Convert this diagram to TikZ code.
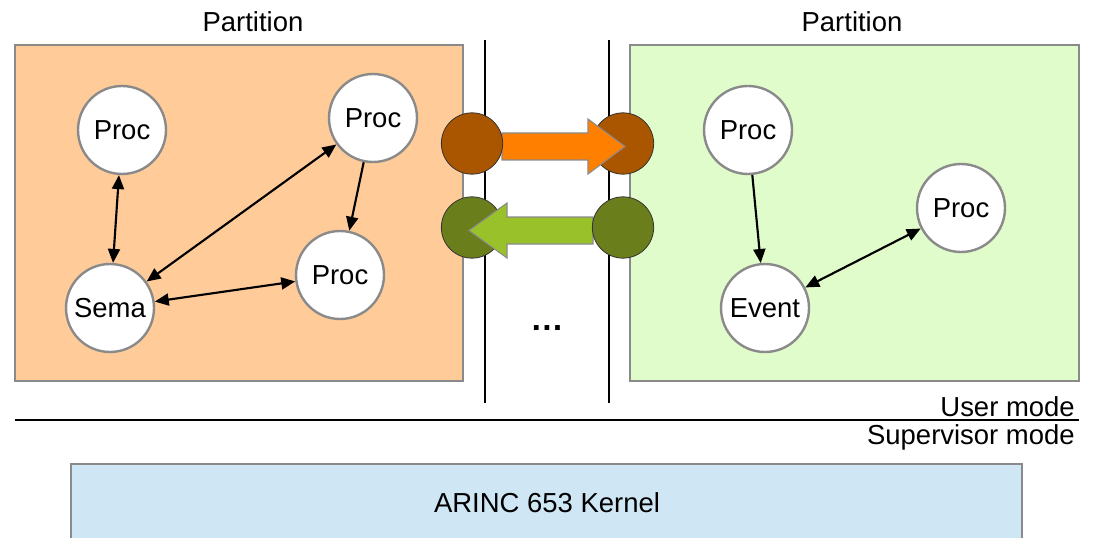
\documentclass[tikz,border=0pt]{standalone}
\usepackage{fontspec}
\setmainfont{Liberation Sans}
\usetikzlibrary{arrows.meta}
\definecolor{peach}{HTML}{FFCC99}
\definecolor{mint}{HTML}{E1FCCB}
\definecolor{kernelblue}{HTML}{CFE6F4}
\definecolor{framegray}{HTML}{8A8A8A}
\definecolor{portbrown}{HTML}{AA5500}
\definecolor{portolive}{HTML}{6A7E1C}
\definecolor{floworange}{HTML}{FF8000}
\definecolor{flowgreen}{HTML}{99C12A}
\tikzset{
  lbl/.style={font=\fontsize{20.6}{24}\selectfont, inner sep=0pt},
  task/.style={circle, draw=framegray, line width=1.8pt, fill=white,
    minimum size=66pt, inner sep=0pt, font=\fontsize{20.6}{24}\selectfont},
  port/.style={circle, draw=black!80, line width=0.6pt, minimum size=46pt, inner sep=0pt},
  partbox/.style={draw=framegray, line width=1.6pt},
  link/.style={line width=1.6pt, {Triangle[length=10.5pt,width=9pt]}-{Triangle[length=10.5pt,width=9pt]}},
  flow/.style={line width=1.6pt, -{Triangle[length=10.5pt,width=9pt]}},
  bigarrow/.style={draw=framegray, line width=0.8pt},
  sep/.style={line width=1.8pt}
}
\begin{document}
\begin{tikzpicture}[x=0.75pt, y=-0.75pt]
  \useasboundingbox (0,0) rectangle (1094,538);
  \clip (0,0) rectangle (1094,538);

  % partition boundaries
  \draw[sep] (485,40) -- (485,403);
  \draw[sep] (609,40) -- (609,403);
  \draw[sep] (15,420) -- (1079,420);

  % partitions
  \draw[partbox, fill=peach] (15,45) rectangle (463,381);
  \draw[partbox, fill=mint] (630,45) rectangle (1079,381);
  \node[lbl] (p1) at (253,22) {Partition};
  \node[lbl] (p2) at (852,22) {Partition};

  % kernel
  \draw[partbox, fill=kernelblue] (71,464) rectangle (1022,560);
  \node[lbl] (kern) at (547,503) {ARINC 653 Kernel};

  % mode labels
  \node[lbl, anchor=east] (um) at (1075,407) {User mode};
  \node[lbl, anchor=east] (sm) at (1075,437) {Supervisor mode};
  \node[lbl, font=\fontsize{25}{28}\selectfont\bfseries] (dots) at (547,328) {…};

  % left partition tasks
  \node[task] (a1) at (122,130) {Proc};
  \node[task] (a2) at (373,118) {Proc};
  \node[task] (a3) at (340,275) {Proc};
  \node[task] (sema) at (110,308) {Sema};
  \draw[link] (a1) -- (sema);
  \draw[link] (a2) -- (sema);
  \draw[link] (a3) -- (sema);
  \draw[flow] (a2) -- (a3);

  % right partition tasks
  \node[task] (b1) at (748,130) {Proc};
  \node[task] (b2) at (961,208) {Proc};
  \node[task] (ev) at (765,308) {Event};
  \draw[flow] (b1) -- (ev);
  \draw[link] (ev) -- (b2);

  % sampling port channel
  \node[port, fill=portbrown] (out1) at (623,143.5) {};
  \draw[bigarrow, fill=floworange] (502,133) -- (588,133) -- (588,119) -- (625,146.5)
    -- (588,174) -- (588,160) -- (502,160) -- cycle;
  \node[port, fill=portbrown] (in1) at (472,143.5) {};

  % queuing port channel
  \node[port, fill=portolive] (in2) at (472,227.5) {};
  \draw[bigarrow, fill=flowgreen] (593,217) -- (507,217) -- (507,203) -- (469,230.5)
    -- (507,258) -- (507,244) -- (593,244) -- cycle;
  \node[port, fill=portolive] (out2) at (623,227.5) {};
\end{tikzpicture}
\end{document}
